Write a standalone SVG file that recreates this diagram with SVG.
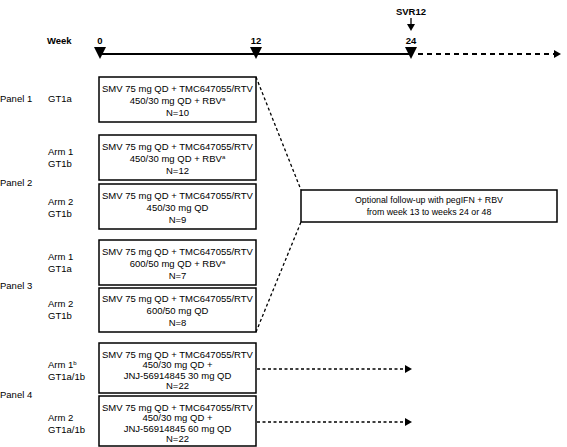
<svg xmlns="http://www.w3.org/2000/svg" width="567" height="447" viewBox="0 0 567 447">
<defs>
<marker id="ah" markerWidth="8" markerHeight="8" refX="1" refY="4" orient="auto" markerUnits="userSpaceOnUse"><path d="M0,0 L7,4 L0,8 z" fill="#000"/></marker>
</defs>
<style>
text{font-family:"Liberation Sans",Arial,Helvetica,sans-serif;font-size:9.5px;fill:#000}
.c{text-anchor:middle}
.b{font-weight:bold}
.box{fill:#fff;stroke:#000;stroke-width:1.5}
.dash{fill:none;stroke:#000;stroke-width:1.3;stroke-dasharray:3 2.5}
.tl{fill:none;stroke:#000;stroke-width:2}
.sup{font-size:6px}
.f{font-size:8.8px}
</style>
<rect width="567" height="447" fill="#fff"/>
<g id="timeline">
<text x="47" y="44" class="b">Week</text>
<text x="100" y="44" class="c b">0</text>
<text x="256" y="44" class="c b">12</text>
<text x="411" y="44" class="c b">24</text>
<text x="411" y="15" class="c b">SVR12</text>
<line x1="100" y1="54" x2="411" y2="54" class="tl"/>
<line x1="418" y1="54" x2="555" y2="54" class="tl" stroke-dasharray="5 4" marker-end="url(#ah)"/>
<polygon points="94,47 106,47 100,59"/>
<polygon points="250,47 262,47 256,59"/>
<polygon points="405,47 417,47 411,59"/>
<line x1="411" y1="18" x2="411" y2="25" stroke="#000" stroke-width="1.3"/>
<polygon points="407,24 415,24 411,31"/>
</g>
<g id="labels">
<text x="0" y="102">Panel 1</text>
<text x="48" y="102">GT1a</text>
<text x="48" y="155">Arm 1</text>
<text x="48" y="167">GT1b</text>
<text x="0" y="186">Panel 2</text>
<text x="48" y="205">Arm 2</text>
<text x="48" y="217">GT1b</text>
<text x="0" y="289">Panel 3</text>
<text x="48" y="260">Arm 1</text>
<text x="48" y="272">GT1a</text>
<text x="48" y="307">Arm 2</text>
<text x="48" y="319">GT1b</text>
<text x="0" y="398">Panel 4</text>
<text x="48" y="368">Arm 1<tspan class="sup" dy="-3">b</tspan></text>
<text x="48" y="380">GT1a/1b</text>
<text x="48" y="421">Arm 2</text>
<text x="48" y="433">GT1a/1b</text>
</g>
<g id="connectors">
<line x1="256" y1="77" x2="301" y2="190" class="dash"/>
<line x1="256" y1="332" x2="301" y2="222" class="dash"/>
<line x1="257" y1="369" x2="406" y2="369" class="dash" marker-end="url(#ah)"/>
<line x1="257" y1="422" x2="406" y2="422" class="dash" marker-end="url(#ah)"/>
</g>
<g id="p1">
<rect x="99" y="77" width="157" height="45" class="box"/>
<text x="177.5" y="92" class="c">SMV 75 mg QD + TMC647055/RTV</text>
<text x="177.5" y="104" class="c">450/30 mg QD + RBV<tspan class="sup" dy="-3">a</tspan></text>
<text x="177.5" y="116" class="c">N=10</text>
</g>
<g id="p2a1">
<rect x="99" y="135" width="157" height="45" class="box"/>
<text x="177.5" y="150" class="c">SMV 75 mg QD + TMC647055/RTV</text>
<text x="177.5" y="162" class="c">450/30 mg QD + RBV<tspan class="sup" dy="-3">a</tspan></text>
<text x="177.5" y="174" class="c">N=12</text>
</g>
<g id="p2a2">
<rect x="99" y="184" width="157" height="45" class="box"/>
<text x="177.5" y="199" class="c">SMV 75 mg QD + TMC647055/RTV</text>
<text x="177.5" y="211" class="c">450/30 mg QD</text>
<text x="177.5" y="223" class="c">N=9</text>
</g>
<g id="p3a1">
<rect x="99" y="240" width="157" height="45" class="box"/>
<text x="177.5" y="255" class="c">SMV 75 mg QD + TMC647055/RTV</text>
<text x="177.5" y="267" class="c">600/50 mg QD + RBV<tspan class="sup" dy="-3">a</tspan></text>
<text x="177.5" y="279" class="c">N=7</text>
</g>
<g id="p3a2">
<rect x="99" y="288" width="157" height="44" class="box"/>
<text x="177.5" y="302" class="c">SMV 75 mg QD + TMC647055/RTV</text>
<text x="177.5" y="314" class="c">600/50 mg QD</text>
<text x="177.5" y="326" class="c">N=8</text>
</g>
<g id="p4a1">
<rect x="99" y="343" width="157" height="50" class="box"/>
<text x="177.5" y="357.5" class="c">SMV 75 mg QD + TMC647055/RTV</text>
<text x="177.5" y="368" class="c">450/30 mg QD +</text>
<text x="177.5" y="378.5" class="c">JNJ-56914845 30 mg QD</text>
<text x="177.5" y="389" class="c">N=22</text>
</g>
<g id="p4a2">
<rect x="99" y="396" width="157" height="50" class="box"/>
<text x="177.5" y="410.5" class="c">SMV 75 mg QD + TMC647055/RTV</text>
<text x="177.5" y="421" class="c">450/30 mg QD +</text>
<text x="177.5" y="431.5" class="c">JNJ-56914845 60 mg QD</text>
<text x="177.5" y="442" class="c">N=22</text>
</g>
<g id="followup">
<rect x="301" y="190" width="256" height="32" class="box"/>
<text x="429" y="203" class="c f">Optional follow-up with pegIFN + RBV</text>
<text x="429" y="215" class="c f">from week 13 to weeks 24 or 48</text>
</g>
</svg>
